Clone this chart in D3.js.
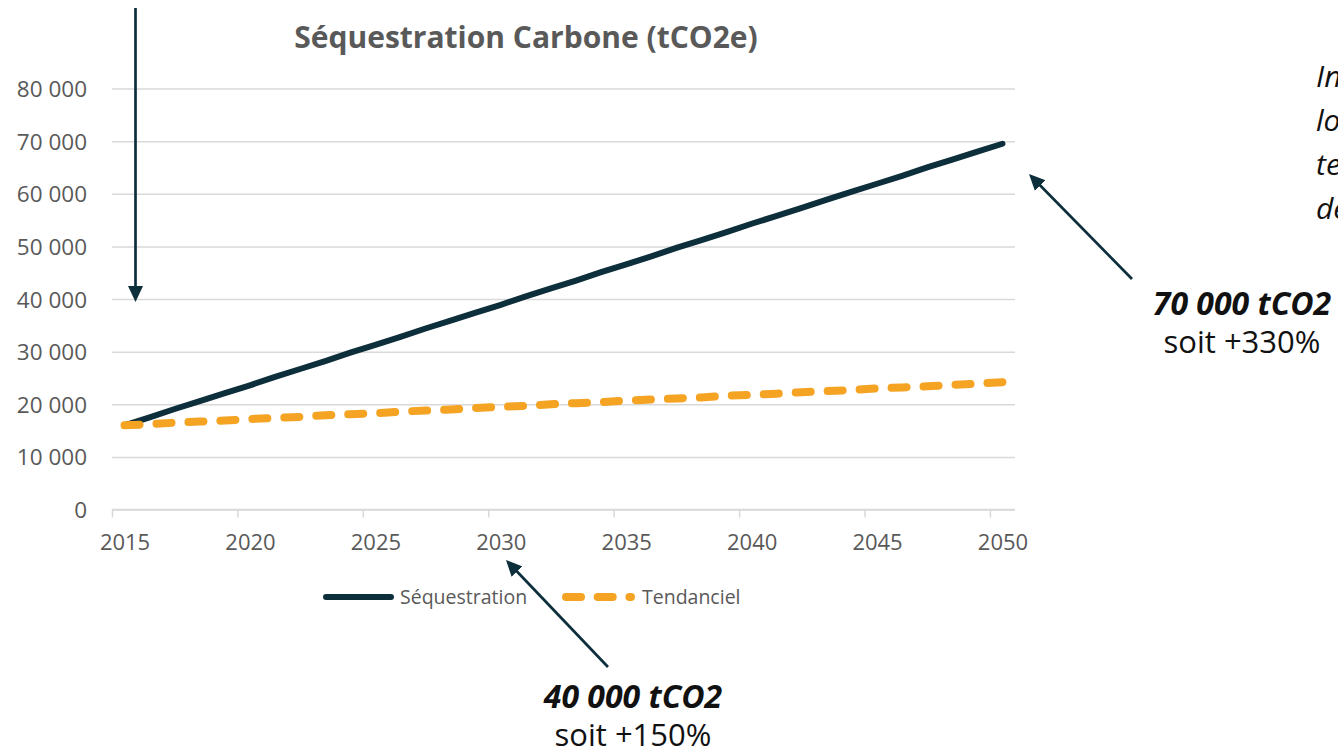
<!DOCTYPE html>
<html>
<head>
<meta charset="utf-8">
<script src="https://cdn.jsdelivr.net/npm/d3@7"></script>
<style>
  body { margin: 0; background: #fff; overflow: hidden; }
  svg { display: block; font-family: "Open Sans", "Noto Sans", sans-serif; }
  svg text { font-family: "Open Sans", "Noto Sans", sans-serif; }
</style>
</head>
<body>
<svg id="chart" width="1338" height="752"></svg>
<script>
// values (tCO2e per year)
var years = d3.range(2015, 2051);
var sequestration = [16000, 17500, 19100, 20600, 22100, 23600, 25200, 26700, 28200, 29800,
                     31300, 32800, 34400, 35900, 37400, 38900, 40500, 42000, 43500, 45100,
                     46600, 48100, 49700, 51200, 52700, 54300, 55800, 57300, 58900, 60400,
                     61900, 63400, 65000, 66500, 68000, 69500];
var tendanciel = [16000, 16200, 16500, 16700, 16900, 17200, 17400, 17600, 17900, 18100,
                  18300, 18600, 18800, 19000, 19300, 19500, 19700, 20000, 20200, 20400,
                  20700, 20900, 21100, 21300, 21600, 21800, 22000, 22300, 22500, 22700,
                  23000, 23200, 23400, 23700, 23900, 24200];
var yearLabels = [2015, 2020, 2025, 2030, 2035, 2040, 2045, 2050];
var yTicks = [0, 10000, 20000, 30000, 40000, 50000, 60000, 70000, 80000];
var seriesNames = ["Séquestration", "Tendanciel"];

var dark = "#0d2e3b";
var orange = "#f4a322";
var grey = "#595959";

var svg = d3.select("#chart");

var plotLeft = 112, plotRight = 1015, plotTop = 88.5, plotBottom = 509.5;

var x = d3.scaleLinear().domain([2014.5, 2050.5]).range([plotLeft, plotRight]);
var y = d3.scaleLinear().domain([0, 80000]).range([plotBottom, plotTop]);

var fr = d3.formatLocale({ decimal: ",", thousands: " ", grouping: [3], currency: ["", "€"] });
var fmt = fr.format(",.0f");

// gridlines + y labels
var yAxis = svg.append("g")
    .attr("transform", "translate(" + plotLeft + ",0)")
    .call(d3.axisLeft(y).tickValues(yTicks).tickSize(-(plotRight - plotLeft)).tickPadding(25).tickFormat(fmt));
yAxis.select(".domain").remove();
yAxis.selectAll(".tick line").attr("stroke", "#d9d9d9").attr("stroke-width", 1.5);
yAxis.selectAll(".tick text")
    .attr("fill", grey)
    .style("font-size", "22.5px")
    .attr("dy", "0.36em");

// x tick marks at category boundaries
var xTickAxis = svg.append("g")
    .attr("transform", "translate(0," + plotBottom + ")")
    .call(d3.axisBottom(x).tickValues(yearLabels.map(function(d) { return d - 0.5; })).tickSize(8).tickFormat(""));
xTickAxis.select(".domain").attr("stroke", "#d9d9d9").attr("stroke-width", 1.5)
    .attr("d", "M" + plotLeft + ",0H" + plotRight);
xTickAxis.selectAll(".tick line").attr("stroke", "#d9d9d9").attr("stroke-width", 1.5);

// x labels at category centres
var xAxis = svg.append("g")
    .attr("transform", "translate(0," + plotBottom + ")")
    .call(d3.axisBottom(x).tickValues(yearLabels).tickSize(0).tickPadding(25).tickFormat(d3.format("d")));
xAxis.select(".domain").remove();
xAxis.selectAll(".tick text")
    .attr("fill", grey)
    .style("font-size", "22px");

// title
svg.append("text")
    .attr("x", 526)
    .attr("y", 48)
    .attr("text-anchor", "middle")
    .attr("fill", grey)
    .style("font-size", "30px")
    .style("font-weight", "bold")
    .text("Séquestration Carbone (tCO2e)");

var line = d3.line()
    .x(function(d, i) { return x(years[i]); })
    .y(function(d) { return y(d); });

svg.append("path")
    .datum(sequestration)
    .attr("d", line)
    .attr("fill", "none")
    .attr("stroke", dark)
    .attr("stroke-width", 6)
    .attr("stroke-linecap", "round");

svg.append("path")
    .datum(tendanciel)
    .attr("d", line)
    .attr("fill", "none")
    .attr("stroke", orange)
    .attr("stroke-width", 8)
    .attr("stroke-dasharray", "15 17")
    .attr("stroke-linecap", "round");

// legend
var legend = svg.append("g").attr("transform", "translate(0,597)");
legend.append("line")
    .attr("x1", 326).attr("x2", 391)
    .attr("stroke", dark).attr("stroke-width", 6).attr("stroke-linecap", "round");
legend.append("text")
    .attr("x", 400).attr("dy", "0.35em")
    .attr("fill", grey).style("font-size", "19.5px")
    .text(seriesNames[0]);
legend.append("line")
    .attr("x1", 566).attr("x2", 631)
    .attr("stroke", orange).attr("stroke-width", 8)
    .attr("stroke-dasharray", "15 16.7").attr("stroke-linecap", "round");
legend.append("text")
    .attr("x", 642).attr("dy", "0.35em")
    .attr("fill", grey).style("font-size", "19.5px")
    .text(seriesNames[1]);

// arrows
svg.append("defs").append("marker")
    .attr("id", "head")
    .attr("viewBox", "0 -8 16 16")
    .attr("refX", 16).attr("refY", 0)
    .attr("markerUnits", "userSpaceOnUse")
    .attr("markerWidth", 16).attr("markerHeight", 16)
    .attr("orient", "auto")
    .append("path")
    .attr("d", "M0,-7.5L16,0L0,7.5Z")
    .attr("fill", dark);

var arrows = [
    { x1: 135.5, y1: 8, x2: 135.5, y2: 302 },
    { x1: 1132, y1: 279, x2: 1029, y2: 174 },
    { x1: 608, y1: 667, x2: 506, y2: 560 }
];
arrows.forEach(function(a) {
    var dx = a.x2 - a.x1, dy = a.y2 - a.y1, len = Math.sqrt(dx * dx + dy * dy);
    svg.append("line")
        .attr("x1", a.x1).attr("y1", a.y1)
        .attr("x2", a.x2 - dx / len * 8).attr("y2", a.y2 - dy / len * 8)
        .attr("stroke", dark).attr("stroke-width", 2.7);
    svg.append("line")
        .attr("x1", a.x2 - dx / len * 10).attr("y1", a.y2 - dy / len * 10)
        .attr("x2", a.x2).attr("y2", a.y2)
        .attr("stroke", "none")
        .attr("marker-end", "url(#head)");
});

// annotations
function note(cx, yBig, big, small) {
    svg.append("text")
        .attr("x", cx).attr("y", yBig)
        .attr("text-anchor", "middle")
        .attr("fill", "#111")
        .style("font-size", "32px").style("font-weight", "bold").style("font-style", "italic")
        .text(big);
    svg.append("text")
        .attr("x", cx).attr("y", yBig + 38)
        .attr("text-anchor", "middle")
        .attr("fill", "#111")
        .style("font-size", "31px")
        .text(small);
}
note(1242, 315, "70 000 tCO2", "soit +330%");
note(633, 708, "40 000 tCO2", "soit +150%");

// cut-off side text
var side = ["Intégrer", "long", "terme", "des"];
svg.selectAll(".side")
    .data(side)
    .enter()
    .append("text")
    .attr("class", "side")
    .attr("x", 1316)
    .attr("y", function(d, i) { return 87 + i * 44; })
    .attr("fill", "#111")
    .style("font-size", "30px").style("font-style", "italic")
    .text(function(d) { return d; });
</script>
</body>
</html>
